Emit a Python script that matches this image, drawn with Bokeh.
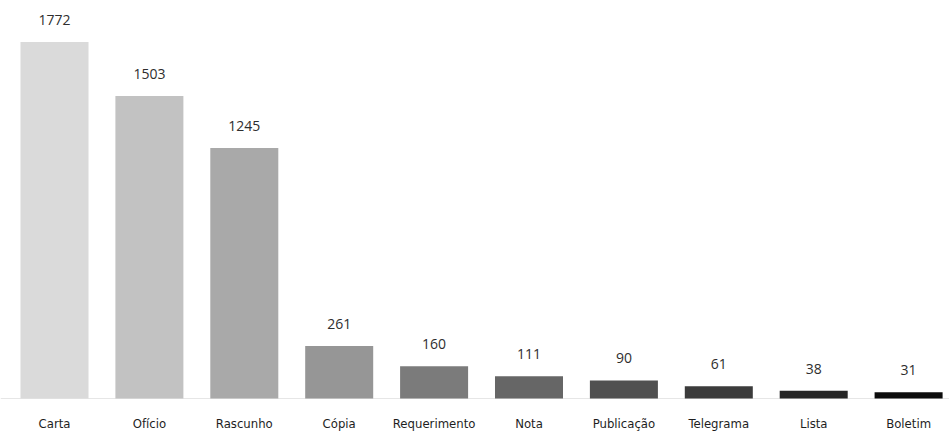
from bokeh.plotting import figure
from bokeh.models import ColumnDataSource, Range1d, Span
from bokeh.core.properties import value
from bokeh.embed import file_html
from bokeh.resources import INLINE

categories = ["Carta", "Ofício", "Rascunho", "Cópia", "Requerimento", "Nota",
              "Publicação", "Telegrama", "Lista", "Boletim"]
counts = [1772, 1503, 1245, 261, 160, 111, 90, 61, 38, 31]
colors = ["#dadada", "#c2c2c2", "#a9a9a9", "#969696", "#7b7b7b", "#666666",
          "#505050", "#3b3b3b", "#262626", "#0c0c0c"]

src = ColumnDataSource(dict(
    x=list(range(len(categories))),
    cat=categories,
    top=counts,
    label=[str(c) for c in counts],
    color=colors,
))

p = figure(width=949, height=438, output_backend="svg", toolbar_location=None,
           x_range=Range1d(-0.569, 9.431), y_range=Range1d(-198.8, 1978),
           min_border=0, outline_line_color=None, background_fill_color="white")
p.axis.visible = False
p.grid.visible = False

p.add_layout(Span(location=0, dimension="width", line_color="#e6e6e6",
                  line_width=1, level="underlay"))

p.vbar(x="x", top="top", bottom=0, width=0.7166, source=src,
       fill_color="color", line_color=None)

p.text(x="x", y="top", text="label", source=src, y_offset=-22,
       text_align="center", text_baseline="middle",
       text_font=value("Open Sans"), text_font_size="14px",
       text_font_style="normal", text_color="#2e2e2e")

p.text(x="x", y=0, text="cat", source=src, y_offset=25,
       text_align="center", text_baseline="middle",
       text_font=value("DejaVu Sans Condensed"), text_font_size="13px",
       text_color="#1e1e1e")

open("out.html", "w").write(file_html(p, INLINE))
